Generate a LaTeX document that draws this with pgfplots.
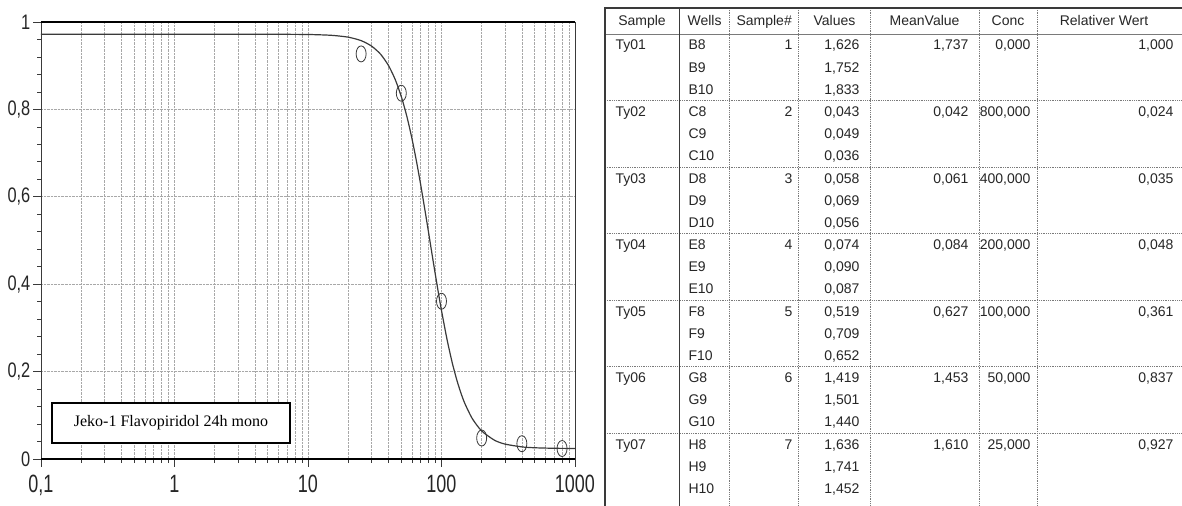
\documentclass[border=0pt]{standalone}
\usepackage{fontspec}
\setmainfont{Liberation Sans}
\newfontfamily\timesfont{Liberation Serif}
\usepackage{pgfplots}
\pgfplotsset{compat=1.18}
\definecolor{txt}{HTML}{262626}
\definecolor{crv}{HTML}{3A3A3A}
\definecolor{grd}{HTML}{A8A8A8}
\definecolor{tline}{HTML}{7A7A7A}

\newcommand\grp[9]{%
 \pgfmathsetmacro\ya{506-45-66.5*#1-5}%
 \pgfmathsetmacro\yb{\ya-22.17}%
 \pgfmathsetmacro\yc{\ya-44.33}%
 \pgfmathtruncatemacro\sn{#1+1}%
 \node[anchor=base west] at (612,\ya) {#2};
 \node[anchor=base west] at (685,\ya) {#38};
 \node[anchor=base west] at (685,\yb) {#39};
 \node[anchor=base west] at (685,\yc) {#310};
 \node[anchor=base east] at (796,\ya) {\sn};
 \node[anchor=base east] at (863,\ya) {#4};
 \node[anchor=base east] at (863,\yb) {#5};
 \node[anchor=base east] at (863,\yc) {#6};
 \node[anchor=base east] at (972,\ya) {#7};
 \node[anchor=base east] at (1034,\ya) {#8};
 \node[anchor=base east] at (1177,\ya) {#9};
}

\begin{document}
\begin{tikzpicture}
\useasboundingbox (0,0) rectangle (1182bp,506bp);
\fill[white] (0,0) rectangle (1182bp,506bp);
\begin{axis}[
  at={(41bp,47bp)}, anchor=south west,
  scale only axis, width=534bp, height=437bp,
  xmode=log, xmin=0.1, xmax=1000, ymin=0, ymax=1,
  xtick={0.1,1,10,100,1000},
  xticklabels={{\mbox{0,1}},\mbox{1},\mbox{10},\mbox{100},\mbox{1000}},
  ytick={0,0.2,0.4,0.6,0.8,1},
  yticklabels={\mbox{0},{\mbox{0,2}},{\mbox{0,4}},{\mbox{0,6}},{\mbox{0,8}},\mbox{1}},
  minor y tick num=4,
  tick align=outside, xtick pos=bottom, ytick pos=left,
  major tick length=8bp, minor tick length=4bp,
  tick style={draw=crv, line width=0.7bp},
  xmajorgrids=true, xminorgrids=true, ymajorgrids=true,
  major grid style={densely dotted, draw=grd, line width=0.7bp},
  minor grid style={densely dotted, draw=grd, line width=0.7bp},
  axis line style={draw=crv, line width=0.9bp},
  xticklabel style={font=\fontsize{25bp}{25bp}\selectfont, xscale=0.72, text=txt, yshift=-5bp},
  yticklabel style={font=\fontsize{21bp}{21bp}\selectfont, xscale=0.78, text=txt},
  clip=false,
]
\addplot[crv, line width=1.2bp, smooth, tension=0.4] coordinates {
(0.1,0.972) (1,0.972) (5,0.9719) (10,0.9714) (15,0.9695) (20,0.9653)
(25,0.9574) (30,0.9447) (35,0.9262) (40,0.9009) (45,0.8685) (50,0.8294)
(55,0.7842) (60,0.7341) (65,0.6807) (70,0.6260) (75,0.5714) (80,0.5185)
(85,0.4682) (90,0.4214) (95,0.3785) (100,0.3397) (110,0.2737) (120,0.2218)
(130,0.1816) (140,0.1504) (150,0.1262) (170,0.0925) (200,0.0641)
(250,0.0428) (300,0.0340) (400,0.0277) (500,0.0257) (700,0.0245) (1000,0.0241)
};
\addplot[only marks, mark=o, mark size=5bp,
  mark options={yscale=1.6, draw=crv, line width=0.8bp}] coordinates {
(25,0.927) (50,0.837) (100,0.361) (200,0.048) (400,0.035) (800,0.024)
};
\draw[black, line width=2bp] (rel axis cs:0,1) -- (rel axis cs:1,1);
\draw[black, line width=2.4bp] (rel axis cs:0,0) -- (rel axis cs:1,0);
\end{axis}
\draw[black, line width=2bp, fill=white] (52bp,63bp) rectangle (290bp,103bp);
\node[font=\timesfont\fontsize{16bp}{16bp}\selectfont, text=black] at (171bp,83bp) {Jeko-1 Flavopiridol 24h mono};

\begin{scope}[x=1bp, y=1bp, font=\fontsize{14bp}{14bp}\selectfont, text=txt]
 % vertical dotted dividers
 \foreach \xx in {729.7,798.8,870.2,979,1037.5}
   \draw[tline, densely dotted, line width=0.8] (\xx,498) -- (\xx,0);
 % group separators
 \foreach \i in {1,...,6}
   \draw[tline, densely dotted, line width=0.8] (605,{472-66.5*\i}) -- (1182,{472-66.5*\i});
 % header bottom
 \draw[tline, line width=0.8] (605,472) -- (1182,472);
 % solid lines
 \draw[crv, line width=1] (679.5,498) -- (679.5,0);
 \draw[crv, line width=1.6] (605,0) -- (605,498) -- (1182,498);
 % header
 \foreach \cx/\t in {642/Sample,704.6/Wells,764.2/Sample\#,834.5/Values,924.6/MeanValue,1008/Conc,1104/Relativer Wert}
   \node[anchor=base] at (\cx,480) {\t};
 \grp{0}{Ty01}{B}{1,626}{1,752}{1,833}{1,737}{0,000}{1,000}
 \grp{1}{Ty02}{C}{0,043}{0,049}{0,036}{0,042}{800,000}{0,024}
 \grp{2}{Ty03}{D}{0,058}{0,069}{0,056}{0,061}{400,000}{0,035}
 \grp{3}{Ty04}{E}{0,074}{0,090}{0,087}{0,084}{200,000}{0,048}
 \grp{4}{Ty05}{F}{0,519}{0,709}{0,652}{0,627}{100,000}{0,361}
 \grp{5}{Ty06}{G}{1,419}{1,501}{1,440}{1,453}{50,000}{0,837}
 \grp{6}{Ty07}{H}{1,636}{1,741}{1,452}{1,610}{25,000}{0,927}
\end{scope}
\end{tikzpicture}
\end{document}
